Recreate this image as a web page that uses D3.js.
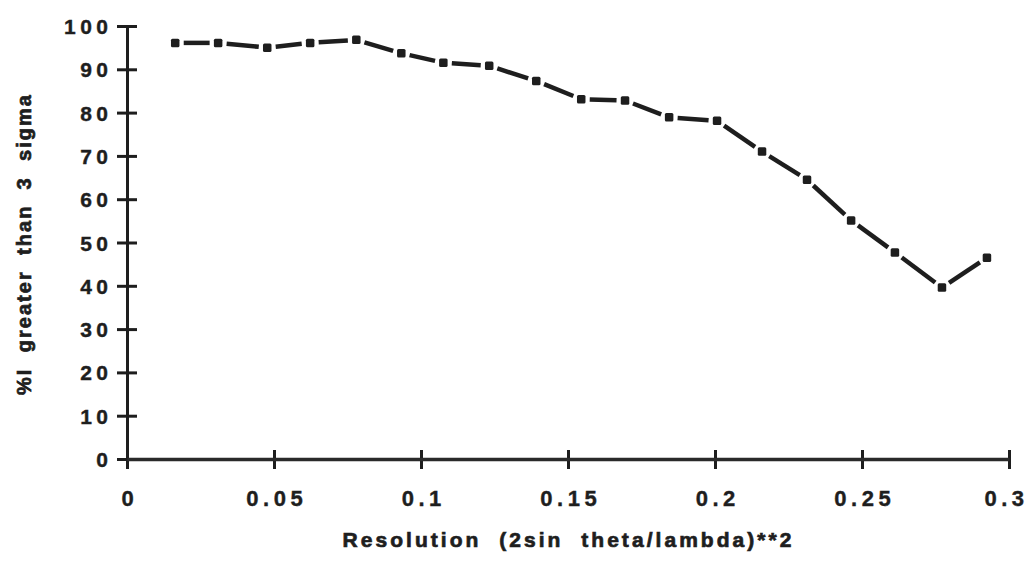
<!DOCTYPE html>
<html>
<head>
<meta charset="utf-8">
<script src="https://cdn.jsdelivr.net/npm/d3@7"></script>
<style>
  body { margin: 0; background: #fff; }
  text { font-family: "Liberation Sans", Arial, sans-serif; font-weight: bold; fill: #1e1e1e; }
</style>
</head>
<body>
<svg id="chart"></svg>
<script>
// values
var resolution = [0.0164, 0.0310, 0.0477, 0.0623, 0.0780, 0.0933, 0.1076, 0.1232, 0.1392, 0.1545,
                  0.1694, 0.1844, 0.2007, 0.2160, 0.2313, 0.2463, 0.2612, 0.2772, 0.2925];
var pctAbove3Sigma = [96.1, 96.1, 95.0, 96.1, 96.8, 93.7, 91.5, 90.8, 87.3, 83.1,
                      82.8, 78.9, 78.1, 71.0, 64.5, 55.1, 47.7, 39.6, 46.5];
var xTicks = [0, 0.05, 0.1, 0.15, 0.2, 0.25, 0.3];
var xTickLabels = ["0", "0.05", "0.1", "0.15", "0.2", "0.25", "0.3"];
var yTicks = [0, 10, 20, 30, 40, 50, 60, 70, 80, 90, 100];

var W = 1031, H = 562;
var margin = { top: 26, right: 22, bottom: 103, left: 127 },
  width = W - margin.left - margin.right,
  height = H - margin.top - margin.bottom;

var svg = d3.select("#chart")
  .attr("width", W)
  .attr("height", H)
  .append("g")
  .attr("transform", "translate(" + margin.left + "," + margin.top + ")");

var x = d3.scaleLinear().domain([0, 0.3]).range([0, width]);
var y = d3.scaleLinear().domain([0, 100]).range([height, 0]);

var ink = "#1e1e1e";
var ls = 4.5; // letter spacing of tick labels

// y axis with ticks crossing the line
var yAxis = svg.append("g")
  .call(d3.axisLeft(y).tickValues(yTicks).tickSizeOuter(0).tickFormat(d3.format("d")));
yAxis.select(".domain").attr("stroke", ink).attr("stroke-width", 3);
yAxis.selectAll(".tick line").attr("x1", -10).attr("x2", 10).attr("stroke", ink).attr("stroke-width", 3);
yAxis.selectAll(".tick text")
  .attr("x", -19 + ls).attr("dy", "0.36em")
  .style("font-size", "21px").style("letter-spacing", ls + "px")
  .attr("fill", ink).attr("stroke", ink).attr("stroke-width", 0.4);

// x axis
var xAxis = svg.append("g")
  .attr("transform", "translate(0," + height + ")")
  .call(d3.axisBottom(x).tickValues(xTicks).tickSizeOuter(0)
    .tickFormat(function (d, i) { return xTickLabels[i]; }));
xAxis.select(".domain").attr("stroke", "#2a2a2a").attr("stroke-width", 3.5);
xAxis.selectAll(".tick line").attr("y1", -9).attr("y2", 10).attr("stroke", ink).attr("stroke-width", 3);
xAxis.selectAll(".tick text")
  .attr("y", 47).attr("dy", 0)
  .attr("dx", function (d, i) { return i === xTicks.length - 1 ? -3 : ls / 2; })
  .style("font-size", "22px").style("letter-spacing", ls + "px")
  .attr("fill", ink).attr("stroke", ink).attr("stroke-width", 0.4);
svg.selectAll(".domain").raise();

// data: short thick segments that stop before each square marker
var pts = resolution.map(function (d, i) { return [x(d), y(pctAbove3Sigma[i])]; });
var gap = 8.5;
var segs = d3.pairs(pts).map(function (p) {
  var dx = p[1][0] - p[0][0], dy = p[1][1] - p[0][1];
  var len = Math.sqrt(dx * dx + dy * dy);
  var ux = dx / len, uy = dy / len;
  return [p[0][0] + ux * gap, p[0][1] + uy * gap, p[1][0] - ux * gap, p[1][1] - uy * gap];
});

svg.selectAll(".seg")
  .data(segs)
  .enter()
  .append("line")
  .attr("class", "seg")
  .attr("x1", function (d) { return d[0]; })
  .attr("y1", function (d) { return d[1]; })
  .attr("x2", function (d) { return d[2]; })
  .attr("y2", function (d) { return d[3]; })
  .attr("stroke", ink)
  .attr("stroke-width", 4.5)
  .attr("stroke-linecap", "butt");

var m = 8.5;
svg.selectAll(".pt")
  .data(pts)
  .enter()
  .append("rect")
  .attr("class", "pt")
  .attr("x", function (d) { return d[0] - m / 2; })
  .attr("y", function (d) { return d[1] - m / 2; })
  .attr("width", m)
  .attr("height", m)
  .attr("rx", 1.5)
  .attr("fill", ink);

// axis titles
svg.append("text")
  .attr("x", 567 - margin.left)
  .attr("y", 547 - margin.top)
  .attr("text-anchor", "middle")
  .attr("textLength", 449)
  .attr("lengthAdjust", "spacing")
  .attr("stroke", ink).attr("stroke-width", 0.7)
  .style("font-size", "21px")
  .style("white-space", "pre")
  .text("Resolution  (2sin  theta/lambda)**2");

svg.append("text")
  .attr("transform", "translate(" + (31 - margin.left) + "," + (245 - margin.top) + ") rotate(-90)")
  .attr("text-anchor", "middle")
  .attr("textLength", 300)
  .attr("lengthAdjust", "spacing")
  .attr("stroke", ink).attr("stroke-width", 0.7)
  .style("font-size", "20px")
  .style("white-space", "pre")
  .text("%I  greater  than  3  sigma");
</script>
</body>
</html>
